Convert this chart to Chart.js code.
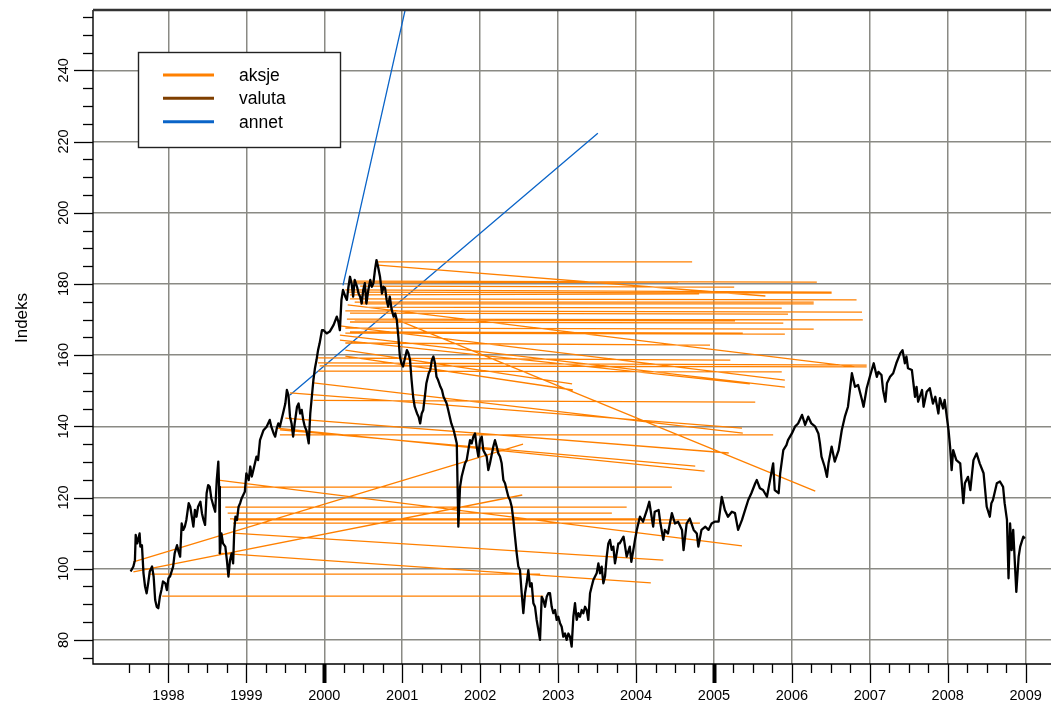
<!DOCTYPE html>
<html><head><meta charset="utf-8">
<script src="https://cdn.jsdelivr.net/npm/chart.js@4.4.0/dist/chart.umd.min.js"></script>
<style>html,body{margin:0;padding:0;background:#fff;overflow:hidden}#wrap{width:1051px;height:704px;position:relative}</style>
</head><body><div id="wrap"><canvas id="c" width="1051" height="704"></canvas></div>
<script>
// ---- index series (black) ----
const indexDates = [1997.515,1997.55,1997.57,1997.58,1997.60,1997.63,1997.64,1997.66,1997.68,1997.70,1997.72,1997.74,1997.76,1997.79,1997.81,1997.83,1997.85,1997.87,1997.89,1997.91,1997.93,1997.96,1997.98,1998.00,1998.02,1998.04,1998.06,1998.08,1998.11,1998.13,1998.15,1998.17,1998.19,1998.21,1998.23,1998.26,1998.28,1998.30,1998.32,1998.34,1998.36,1998.38,1998.41,1998.43,1998.45,1998.47,1998.49,1998.51,1998.53,1998.55,1998.58,1998.60,1998.62,1998.64,1998.65,1998.66,1998.68,1998.70,1998.73,1998.75,1998.77,1998.79,1998.81,1998.83,1998.845,1998.86,1998.88,1998.90,1998.92,1998.94,1998.96,1998.98,1999.00,1999.03,1999.05,1999.07,1999.09,1999.11,1999.13,1999.15,1999.175,1999.22,1999.26,1999.30,1999.32,1999.35,1999.37,1999.39,1999.41,1999.43,1999.45,1999.47,1999.50,1999.52,1999.54,1999.56,1999.58,1999.60,1999.62,1999.65,1999.67,1999.69,1999.71,1999.73,1999.75,1999.77,1999.80,1999.82,1999.84,1999.86,1999.88,1999.90,1999.92,1999.94,1999.97,1999.99,2000.03,2000.07,2000.12,2000.16,2000.18,2000.20,2000.22,2000.24,2000.27,2000.29,2000.31,2000.33,2000.35,2000.37,2000.39,2000.42,2000.44,2000.46,2000.48,2000.50,2000.52,2000.54,2000.565,2000.59,2000.61,2000.63,2000.65,2000.67,2000.69,2000.715,2000.74,2000.76,2000.78,2000.80,2000.82,2000.84,2000.865,2000.89,2000.91,2000.93,2000.95,2000.97,2000.99,2001.01,2001.04,2001.06,2001.08,2001.10,2001.12,2001.14,2001.16,2001.19,2001.21,2001.23,2001.25,2001.27,2001.29,2001.31,2001.34,2001.36,2001.38,2001.40,2001.42,2001.44,2001.46,2001.49,2001.51,2001.53,2001.55,2001.57,2001.59,2001.61,2001.63,2001.66,2001.68,2001.70,2001.72,2001.742,2001.763,2001.784,2001.806,2001.827,2001.848,2001.87,2001.891,2001.913,2001.934,2001.955,2001.977,2001.998,2002.02,2002.041,2002.062,2002.084,2002.105,2002.126,2002.169,2002.19,2002.212,2002.233,2002.255,2002.276,2002.298,2002.319,2002.34,2002.362,2002.383,2002.405,2002.426,2002.447,2002.469,2002.49,2002.511,2002.533,2002.554,2002.576,2002.597,2002.618,2002.64,2002.661,2002.683,2002.704,2002.725,2002.747,2002.768,2002.79,2002.811,2002.832,2002.854,2002.875,2002.896,2002.918,2002.939,2002.961,2002.982,2003.003,2003.025,2003.046,2003.067,2003.089,2003.11,2003.132,2003.153,2003.174,2003.196,2003.217,2003.239,2003.26,2003.281,2003.303,2003.324,2003.346,2003.367,2003.388,2003.41,2003.431,2003.452,2003.474,2003.495,2003.517,2003.538,2003.559,2003.581,2003.602,2003.624,2003.645,2003.666,2003.688,2003.709,2003.73,2003.752,2003.773,2003.79,2003.84,2003.88,2003.92,2003.94,2003.99,2004.01,2004.05,2004.09,2004.14,2004.17,2004.20,2004.22,2004.24,2004.29,2004.31,2004.35,2004.37,2004.41,2004.46,2004.50,2004.54,2004.59,2004.61,2004.65,2004.69,2004.74,2004.78,2004.80,2004.84,2004.89,2004.93,2004.97,2005.01,2005.06,2005.10,2005.14,2005.18,2005.23,2005.27,2005.31,2005.36,2005.40,2005.44,2005.48,2005.53,2005.55,2005.59,2005.63,2005.68,2005.72,2005.76,2005.78,2005.83,2005.85,2005.89,2005.93,2005.95,2006.00,2006.04,2006.08,2006.13,2006.17,2006.21,2006.25,2006.30,2006.34,2006.36,2006.38,2006.42,2006.45,2006.47,2006.51,2006.55,2006.60,2006.64,2006.68,2006.72,2006.77,2006.81,2006.85,2006.90,2006.92,2006.96,2007.00,2007.05,2007.09,2007.11,2007.15,2007.17,2007.20,2007.22,2007.26,2007.30,2007.34,2007.39,2007.42,2007.45,2007.47,2007.49,2007.54,2007.58,2007.60,2007.62,2007.67,2007.69,2007.73,2007.77,2007.81,2007.84,2007.88,2007.90,2007.94,2007.96,2008.01,2008.03,2008.05,2008.07,2008.11,2008.16,2008.20,2008.22,2008.26,2008.29,2008.33,2008.37,2008.41,2008.46,2008.50,2008.54,2008.56,2008.58,2008.63,2008.67,2008.71,2008.73,2008.76,2008.78,2008.80,2008.82,2008.84,2008.88,2008.91,2008.93,2008.97,2008.99];
const indexValues = [99.2,100.6,102.4,109.5,107.1,109.9,106.2,106.6,98.7,95.0,93.1,95.9,99.2,100.6,97.8,91.2,89.3,88.9,92.1,94.0,96.4,95.9,94.0,97.3,97.8,99.2,100.6,104.3,106.6,104.8,103.4,112.7,110.9,111.8,113.7,118.4,117.4,114.6,111.8,116.5,114.6,117.4,118.8,115.6,113.7,112.3,121.2,123.5,123.0,119.8,117.4,116.0,124.9,130.1,123.0,104.3,109.9,107.1,106.2,102.4,97.8,102.4,104.3,101.5,110.9,114.6,113.7,117.4,118.4,119.8,120.7,121.6,126.8,124.9,128.7,125.9,127.7,129.6,131.5,130.5,136.1,138.9,139.9,141.8,139.9,138.0,137.1,139.4,140.8,139.9,141.8,143.6,146.4,150.2,148.8,142.7,140.8,137.1,140.8,145.5,146.4,143.6,144.6,141.8,139.9,138.9,135.2,143.6,148.3,153.0,156.3,158.6,161.4,163.3,167.0,167.0,166.1,166.6,168.5,170.8,169.4,167.0,175.5,178.3,176.4,175.5,179.2,182.0,180.2,176.4,181.1,179.2,177.3,176.4,174.5,178.3,180.2,174.5,178.3,181.1,179.2,180.2,183.9,186.7,184.8,182.0,177.3,179.2,178.8,175.5,173.6,176.4,172.7,170.8,171.7,169.9,165.2,159.6,157.7,156.8,159.6,161.4,160.5,158.6,153.0,148.3,145.5,143.6,142.7,140.8,143.6,144.6,148.3,152.1,154.9,155.8,158.6,159.6,157.7,153.9,153.0,151.1,150.2,148.3,147.4,146.4,144.6,142.7,140.8,138.9,137.1,135.2,111.8,123.0,125.9,127.7,129.6,130.5,133.3,136.1,135.2,137.1,138.0,134.3,131.5,136.1,137.1,133.3,132.4,131.5,127.7,129.6,134.3,136.1,134.3,132.4,131.5,129.6,124.9,124.0,122.1,120.2,119.3,117.4,113.7,109.0,104.3,100.6,99.6,93.1,87.5,93.1,95.9,99.6,95.0,95.9,90.3,89.3,85.6,82.8,80.0,92.1,91.2,89.3,92.1,93.1,93.1,89.3,87.5,88.4,85.6,86.5,84.7,83.7,80.9,81.8,80.0,81.8,80.9,78.1,86.5,90.3,85.6,87.5,86.5,88.4,87.5,89.3,88.4,85.6,93.1,95.0,96.8,97.8,98.7,101.5,98.7,100.6,95.9,97.8,103.4,107.1,108.1,105.3,106.2,101.5,104.3,107.1,107.1,109.0,103.4,106.2,101.9,108.5,110.9,114.6,113.2,116.5,118.8,114.6,111.8,116.0,116.5,113.2,108.1,110.9,109.9,115.6,112.7,113.2,110.9,105.2,112.7,114.1,110.9,109.9,106.2,110.9,111.8,110.9,112.7,113.2,113.2,120.2,116.5,114.6,116.0,115.6,110.9,113.7,116.5,119.3,121.2,124.0,124.9,122.6,122.1,120.2,124.9,129.6,122.1,121.2,126.8,133.3,134.7,136.1,138.0,139.9,140.8,143.2,140.4,142.7,140.8,139.9,138.0,135.2,131.5,128.7,125.8,129.6,134.3,130.1,133.3,138.9,142.7,145.5,154.9,151.1,151.6,147.4,145.5,150.7,153.9,157.7,153.9,155.3,154.4,150.2,146.9,152.1,153.9,154.9,157.7,160.5,161.4,157.7,159.6,156.3,155.8,148.3,151.1,146.9,150.2,145.5,149.7,150.7,146.4,148.3,143.6,147.9,145.0,147.4,138.9,134.3,127.7,133.3,130.5,129.6,118.4,124.0,125.8,122.1,130.5,132.4,129.6,126.8,117.4,114.6,118.4,119.3,124.0,124.5,123.0,118.4,113.7,97.3,112.7,105.2,110.9,93.5,103.4,106.2,109.0,108.5];

// ---- aksje segments (orange) ----
const aksjeStartDate  = [2000.69,2000.69,2000.36,2000.36,2000.46,2000.27,2000.30,2000.33,2000.33,2000.39,2000.46,2000.52,2000.27,2000.33,2000.29,2000.39,2000.33,2000.27,2000.33,2000.27,2000.27,2000.30,1999.92,1999.92,1999.94,1999.92,1999.86,1999.86,1999.56,1999.43,1999.50,1999.43,1999.39,2000.20,2000.20,2000.20,2000.88,2000.27,2000.27,1998.64,1998.64,1998.73,1998.76,1998.79,1998.83,1998.83,1998.83,1998.64,1997.76,1997.92,1997.55,1997.55];
const aksjeStartValue = [186.2,185.3,180.8,180.3,179.4,178.3,177.7,176.9,175.8,174.9,174.4,173.5,172.4,171.8,170.1,169.9,169.3,167.6,166.5,166.2,163.4,174.1,159.2,157.8,157.0,155.5,147.3,152.2,149.4,137.6,142.3,139.0,139.5,168.2,165.6,164.2,170.4,161.4,159.7,122.9,124.9,117.3,115.6,114.0,113.7,112.8,110.0,104.4,98.5,92.3,101.9,99.1];
const aksjeEndDate    = [2004.72,2005.66,2006.32,2004.54,2005.26,2006.51,2006.51,2004.81,2006.83,2006.28,2006.28,2005.87,2006.90,2005.95,2006.91,2005.27,2005.89,2006.28,2005.37,2005.91,2004.95,2006.81,2005.21,2006.96,2006.96,2005.87,2005.53,2005.37,2005.36,2005.76,2005.19,2004.76,2004.88,2005.91,2005.91,2005.46,2006.30,2003.18,2003.19,2004.46,2005.36,2003.88,2003.69,2004.09,2004.67,2004.82,2004.35,2004.19,2002.77,2002.81,2002.55,2002.54];
const aksjeEndValue   = [186.2,176.6,180.5,180.5,179.1,177.7,177.4,177.2,175.5,174.9,174.4,173.2,172.1,171.5,169.9,169.6,169.0,167.3,166.2,165.9,162.8,156.7,158.6,157.2,156.7,155.3,146.8,138.1,139.5,137.6,132.5,128.8,127.4,153.0,151.0,151.9,121.8,151.9,150.2,122.9,106.4,117.3,115.6,114.0,113.7,112.8,102.4,96.0,98.5,92.3,135.0,120.7];

// ---- valuta segments (brown): none visible ----
const valutaStartDate = [], valutaStartValue = [], valutaEndDate = [], valutaEndValue = [];

// ---- annet segments (blue) ----
const annetStartDate  = [2000.24,1999.56];
const annetStartValue = [179.6,148.8];
const annetEndDate    = [2001.10,2003.51];
const annetEndValue   = [263.0,222.3];

// ---- axes ----
const yearTicks = [1998,1999,2000,2001,2002,2003,2004,2005,2006,2007,2008,2009];
const yearLabels = ['1998','1999','2000','2001','2002','2003','2004','2005','2006','2007','2008','2009'];
const valueTicks = [80,100,120,140,160,180,200,220,240];
const valueLabels = ['80','100','120','140','160','180','200','220','240'];
const legendLabels = ['aksje','valuta','annet'];
const thickYears = [2000,2005];

const ORANGE = '#FF8000', BROWN = '#7F3F00', BLUE = '#0A64C8';
const FONT = '"Liberation Sans", Arial, Helvetica, sans-serif';

function segData(sx, sy, ex, ey) {
  const out = [];
  for (let i = 0; i < sx.length; i++) {
    out.push({x: sx[i], y: sy[i]}, {x: ex[i], y: ey[i]}, {x: ex[i], y: null});
  }
  return out;
}

const rAxes = {
  id: 'rAxes',
  afterDraw(chart) {
    const {ctx, chartArea: a, scales: {x, y}} = chart;
    ctx.save();
    ctx.strokeStyle = '#000'; ctx.lineWidth = 1.4; ctx.lineCap = 'butt';
    ctx.beginPath();
    ctx.moveTo(a.left, a.top); ctx.lineTo(a.left, a.bottom); ctx.lineTo(a.right, a.bottom);
    ctx.stroke();
    ctx.strokeStyle = '#333'; ctx.lineWidth = 2.4;
    ctx.beginPath(); ctx.moveTo(a.left, a.top); ctx.lineTo(a.right, a.top); ctx.stroke();

    ctx.strokeStyle = '#000'; ctx.lineWidth = 1.3;
    for (let v = 75; v <= 255; v += 5) {
      const py = Math.round(y.getPixelForValue(v)) + 0.5;
      const major = valueTicks.includes(v);
      ctx.beginPath(); ctx.moveTo(a.left - (major ? 19 : 10), py); ctx.lineTo(a.left, py); ctx.stroke();
    }
    ctx.fillStyle = '#000';
    ctx.font = '14.5px ' + FONT;
    ctx.textAlign = 'center'; ctx.textBaseline = 'alphabetic';
    valueTicks.forEach((v, i) => {
      const py = y.getPixelForValue(v);
      ctx.save(); ctx.translate(68, py); ctx.rotate(-Math.PI / 2);
      ctx.fillText(valueLabels[i], 0, 0); ctx.restore();
    });
    ctx.save(); ctx.font = '17px ' + FONT; ctx.translate(27, 318); ctx.rotate(-Math.PI / 2);
    ctx.fillText('Indeks', 0, 0); ctx.restore();

    for (let q = 1997.5; q <= 2009.001; q += 0.25) {
      const px = Math.round(x.getPixelForValue(q)) + 0.5;
      const isYear = Math.abs(q - Math.round(q)) < 1e-6;
      const thick = isYear && thickYears.includes(Math.round(q));
      ctx.lineWidth = thick ? 4 : 1.3;
      ctx.beginPath(); ctx.moveTo(px, a.bottom); ctx.lineTo(px, a.bottom + (isYear ? 19 : 9)); ctx.stroke();
    }
    ctx.textAlign = 'center'; ctx.textBaseline = 'alphabetic';
    yearTicks.forEach((v, i) => {
      ctx.fillText(yearLabels[i], x.getPixelForValue(v), 700);
    });

    const bx = 138.5, by = 52.5, bw = 202, bh = 95;
    ctx.fillStyle = '#fff'; ctx.fillRect(bx, by, bw, bh);
    ctx.strokeStyle = '#222'; ctx.lineWidth = 1.4; ctx.strokeRect(bx, by, bw, bh);
    const cols = [ORANGE, BROWN, BLUE];
    const rows = [75, 98.3, 121.7];
    ctx.font = '17.5px ' + FONT; ctx.textAlign = 'left'; ctx.textBaseline = 'middle';
    legendLabels.forEach((t, i) => {
      ctx.strokeStyle = cols[i]; ctx.lineWidth = 3;
      ctx.beginPath(); ctx.moveTo(163, rows[i]); ctx.lineTo(214, rows[i]); ctx.stroke();
      ctx.fillStyle = '#000'; ctx.fillText(t, 239, rows[i] + 1);
    });
    ctx.restore();
  }
};

new Chart(document.getElementById('c'), {
  type: 'line',
  data: {
    datasets: [
      {label: 'indeks', data: indexDates.map((d, i) => ({x: d, y: indexValues[i]})),
       borderColor: '#000', borderWidth: 2.3, pointRadius: 0, tension: 0, order: 0, clip: 0,
       borderJoinStyle: 'round'},
      {label: 'aksje', data: segData(aksjeStartDate, aksjeStartValue, aksjeEndDate, aksjeEndValue),
       borderColor: ORANGE, borderWidth: 1.3, pointRadius: 0, tension: 0, order: 1, clip: 0, spanGaps: false},
      {label: 'valuta', data: segData(valutaStartDate, valutaStartValue, valutaEndDate, valutaEndValue),
       borderColor: BROWN, borderWidth: 1.3, pointRadius: 0, tension: 0, order: 2, clip: 0, spanGaps: false},
      {label: 'annet', data: segData(annetStartDate, annetStartValue, annetEndDate, annetEndValue),
       borderColor: BLUE, borderWidth: 1.3, pointRadius: 0, tension: 0, order: 3, clip: 0, spanGaps: false}
    ]
  },
  options: {
    responsive: false, animation: false, devicePixelRatio: 1, events: [],
    layout: {padding: {left: 93, top: 10, right: 0, bottom: 40}},
    plugins: {legend: {display: false}, tooltip: {enabled: false}},
    scales: {
      x: {type: 'linear', min: 1997.032, max: 2009.325,
          afterBuildTicks: s => { s.ticks = yearTicks.map(v => ({value: v})); },
          ticks: {display: false}, border: {display: false},
          grid: {color: '#8a8a84', lineWidth: 1.5, drawTicks: false}},
      y: {type: 'linear', min: 73.23, max: 256.94,
          afterBuildTicks: s => { s.ticks = valueTicks.map(v => ({value: v})); },
          ticks: {display: false}, border: {display: false},
          grid: {color: '#8a8a84', lineWidth: 1.5, drawTicks: false}}
    }
  },
  plugins: [rAxes]
});
</script></body></html>
